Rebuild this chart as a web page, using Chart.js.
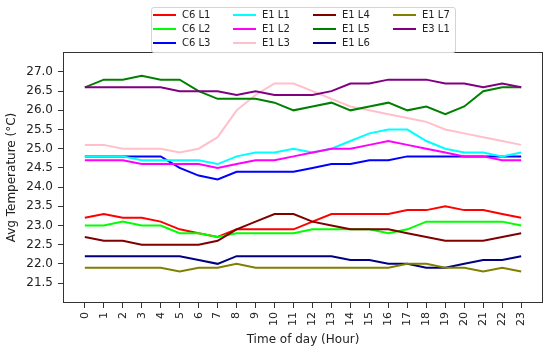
<!DOCTYPE html>
<html>
<head>
<meta charset="utf-8">
<script src="https://cdn.jsdelivr.net/npm/chart.js@4.4.1/dist/chart.umd.min.js"></script>
<style>
html, body { margin: 0; padding: 0; background: #fff; }
#wrap { position: relative; width: 550px; height: 352px; }
#legend { position: absolute; left: 151px; top: 7px; width: 303px; height: 44px;
  border: 1px solid #d4d4d4; border-radius: 3px; background: rgba(255,255,255,0.85);
  font-family: "DejaVu Sans"; font-size: 10px; color: #222; }
.item { position: absolute; height: 12px; line-height: 12px; white-space: nowrap; }
.swatch { display: inline-block; width: 23px; height: 2px; vertical-align: middle; margin-right: 6px; }
</style>
</head>
<body>
<div id="wrap">
  <canvas id="myChart" width="550" height="352"></canvas>
  <div id="legend"></div>
</div>
<script>
var hours = [0,1,2,3,4,5,6,7,8,9,10,11,12,13,14,15,16,17,18,19,20,21,22,23];
var yTicks = [21.5,22.0,22.5,23.0,23.5,24.0,24.5,25.0,25.5,26.0,26.5,27.0];

var seriesNames = ['C6 L1','C6 L2','C6 L3','E1 L1','E1 L2','E1 L3','E1 L4','E1 L5','E1 L6','E1 L7','E3 L1'];
var seriesColors = ['#ff0000','#00ff00','#0000ff','#00ffff','#ff00ff','#ffc0cb','#800000','#008000','#000080','#808000','#800080'];

var c6l1 = [23.2,23.3,23.2,23.2,23.1,22.9,22.8,22.7,22.9,22.9,22.9,22.9,23.1,23.3,23.3,23.3,23.3,23.4,23.4,23.5,23.4,23.4,23.3,23.2];
var c6l2 = [23.0,23.0,23.1,23.0,23.0,22.8,22.8,22.7,22.8,22.8,22.8,22.8,22.9,22.9,22.9,22.9,22.8,22.9,23.1,23.1,23.1,23.1,23.1,23.0];
var c6l3 = [24.8,24.8,24.8,24.8,24.8,24.5,24.3,24.2,24.4,24.4,24.4,24.4,24.5,24.6,24.6,24.7,24.7,24.8,24.8,24.8,24.8,24.8,24.8,24.8];
var e1l1 = [24.8,24.8,24.8,24.7,24.7,24.7,24.7,24.6,24.8,24.9,24.9,25.0,24.9,25.0,25.2,25.4,25.5,25.5,25.2,25.0,24.9,24.9,24.8,24.9];
var e1l2 = [24.7,24.7,24.7,24.6,24.6,24.6,24.6,24.5,24.6,24.7,24.7,24.8,24.9,25.0,25.0,25.1,25.2,25.1,25.0,24.9,24.8,24.8,24.7,24.7];
var e1l3 = [25.1,25.1,25.0,25.0,25.0,24.9,25.0,25.3,26.0,26.4,26.7,26.7,26.5,26.3,26.1,26.0,25.9,25.8,25.7,25.5,25.4,25.3,25.2,25.1];
var e1l4 = [22.7,22.6,22.6,22.5,22.5,22.5,22.5,22.6,22.9,23.1,23.3,23.3,23.1,23.0,22.9,22.9,22.9,22.8,22.7,22.6,22.6,22.6,22.7,22.8];
var e1l5 = [26.6,26.8,26.8,26.9,26.8,26.8,26.5,26.3,26.3,26.3,26.2,26.0,26.1,26.2,26.0,26.1,26.2,26.0,26.1,25.9,26.1,26.5,26.6,26.6];
var e1l6 = [22.2,22.2,22.2,22.2,22.2,22.2,22.1,22.0,22.2,22.2,22.2,22.2,22.2,22.2,22.1,22.1,22.0,22.0,21.9,21.9,22.0,22.1,22.1,22.2];
var e1l7 = [21.9,21.9,21.9,21.9,21.9,21.8,21.9,21.9,22.0,21.9,21.9,21.9,21.9,21.9,21.9,21.9,21.9,22.0,22.0,21.9,21.9,21.8,21.9,21.8];
var e3l1 = [26.6,26.6,26.6,26.6,26.6,26.5,26.5,26.5,26.4,26.5,26.4,26.4,26.4,26.5,26.7,26.7,26.8,26.8,26.8,26.7,26.7,26.6,26.7,26.6];

var allSeries = [c6l1, c6l2, c6l3, e1l1, e1l2, e1l3, e1l4, e1l5, e1l6, e1l7, e3l1];

// legend, matplotlib style: 3 rows, filled column by column
var colX = [153, 233, 313, 393];
var rowY = [15, 29, 43];
var legend = document.getElementById('legend');
seriesNames.forEach(function(name, i) {
    var col = Math.floor(i / 3), row = i % 3;
    var d = document.createElement('div');
    d.className = 'item';
    d.style.left = (colX[col] - 152) + 'px';
    d.style.top = (rowY[row] - 8 - 6) + 'px';
    d.innerHTML = '<span class="swatch" style="background:' + seriesColors[i] + '"></span>' + name;
    legend.appendChild(d);
});

var datasets = allSeries.map(function(s, i) {
    return {
        label: seriesNames[i],
        data: hours.map(function(h, j) { return {x: h, y: s[j]}; }),
        borderColor: seriesColors[i],
        backgroundColor: seriesColors[i],
        borderWidth: 2,
        pointRadius: 0,
        tension: 0,
        fill: false,
        order: -i
    };
});

// box around the plot area
var frame = {
    id: 'frame',
    afterDatasetsDraw: function(chart) {
        var a = chart.chartArea, ctx = chart.ctx;
        ctx.save();
        ctx.strokeStyle = '#333';
        ctx.lineWidth = 1;
        ctx.strokeRect(Math.round(a.left) + 0.5, Math.round(a.top) + 0.5,
            Math.round(a.right - a.left) - 1, Math.round(a.bottom - a.top) - 1);
        ctx.restore();
    }
};

var font = "'DejaVu Sans'";
new Chart(document.getElementById('myChart'), {
    type: 'line',
    data: { datasets: datasets },
    plugins: [frame],
    options: {
        responsive: false,
        animation: false,
        devicePixelRatio: 1,
        layout: { padding: { left: 0, right: 7, top: 52, bottom: 0 } },
        plugins: { legend: { display: false }, tooltip: { enabled: false } },
        scales: {
            x: {
                type: 'linear',
                min: -1.15,
                max: 24.15,
                afterBuildTicks: function(scale) {
                    scale.ticks = hours.map(function(h) { return {value: h}; });
                },
                afterFit: function(scale) { scale.height = 49; },
                border: { display: false },
                grid: { display: true, drawOnChartArea: false, drawTicks: true, tickLength: 5, color: '#333' },
                ticks: {
                    autoSkip: false, minRotation: 90, maxRotation: 90, padding: 4,
                    color: '#222', font: { family: font, size: 11 },
                    callback: function(v) { return String(v); }
                },
                title: { display: true, text: 'Time of day (Hour)', color: '#222',
                    font: { family: font, size: 12 }, padding: { top: 0, bottom: 5 } }
            },
            y: {
                min: 20.98,
                max: 27.52,
                afterBuildTicks: function(scale) {
                    scale.ticks = yTicks.map(function(t) { return {value: t}; });
                },
                afterFit: function(scale) { scale.width = 63; },
                border: { display: false },
                grid: { display: true, drawOnChartArea: false, drawTicks: true, tickLength: 5, color: '#333' },
                ticks: {
                    padding: 5, color: '#222', font: { family: font, size: 12 },
                    callback: function(v) { return v.toFixed(1); }
                },
                title: { display: true, text: 'Avg Temperature (°C)', color: '#222',
                    font: { family: font, size: 12 }, padding: { top: 5, bottom: 0 } }
            }
        }
    }
});
</script>
</body>
</html>
